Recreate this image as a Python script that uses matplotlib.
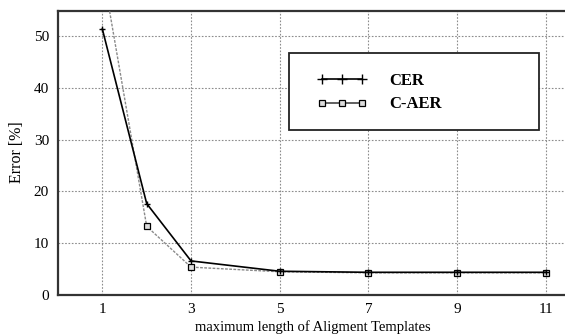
import matplotlib
matplotlib.use("Agg")
import matplotlib.pyplot as plt
from matplotlib.patches import Rectangle
from matplotlib.lines import Line2D

plt.rcParams['font.family'] = ['Liberation Serif', 'DejaVu Serif']

x_vals = [1, 2, 3, 5, 7, 9, 11]
cer = [51.4, 17.6, 6.5, 4.5, 4.3, 4.3, 4.3]
c_aer = [63.0, 13.2, 5.3, 4.4, 4.2, 4.2, 4.2]
xticks = [1, 3, 5, 7, 9, 11]
yticks = [0, 10, 20, 30, 40, 50]
series_labels = ["CER", "C-AER"]

W, H = 565, 336
fig = plt.figure(figsize=(W / 100, H / 100), dpi=100)
left, right, top, bottom = 58, 568, 10.5, 294.5
ax = fig.add_axes([left / W, 1 - bottom / H, (right - left) / W, (bottom - top) / H])

ax.set_xlim(0, 11.5)
ax.set_ylim(0, 55)
ax.set_xticks(xticks)
ax.set_yticks(yticks)

ax.grid(True, linestyle=(0, (1.5, 1.5)), color='#8c8c8c', linewidth=0.8)
ax.set_axisbelow(True)

ax.plot(x_vals, cer, color='black', linewidth=1.2, marker='+',
        markersize=5, markeredgewidth=1.0, label=series_labels[0], zorder=4)
ax.plot(x_vals, c_aer, color='#8a8a8a', linewidth=1.0, linestyle=(0, (2, 1)),
        marker='s', markersize=4, markerfacecolor='#dddddd',
        markeredgecolor='black', markeredgewidth=0.9,
        label=series_labels[1], zorder=3)

for s in ['left', 'bottom', 'top']:
    ax.spines[s].set_linewidth(1.6)
    ax.spines[s].set_color('#333333')
ax.spines['right'].set_visible(False)

ax.tick_params(axis='both', length=0, labelsize=11)
ax.tick_params(axis='y', pad=6.5)
ax.tick_params(axis='x', pad=6)

ax.set_ylabel("Error [%]", fontsize=11.5, labelpad=6)
ax.set_xlabel("maximum length of Aligment Templates", fontsize=10.5, labelpad=3)

# legend frame (pixel coords converted to figure coords)
bx0, bx1, by0, by1 = 289, 539, 52.7, 130
rect = Rectangle((bx0 / W, 1 - by1 / H), (bx1 - bx0) / W, (by1 - by0) / H,
                 transform=fig.transFigure, facecolor='white', edgecolor='#222222',
                 linewidth=1.3, zorder=5)
fig.patches.append(rect)

h1 = Line2D([], [], color='black', linewidth=1.2, marker='+', markersize=7, markeredgewidth=1.0)
h2 = Line2D([], [], color='#444444', linewidth=1.2, marker='s', markersize=5,
            markerfacecolor='#dddddd', markeredgecolor='black', markeredgewidth=0.9)
leg = fig.legend([h1, h2], series_labels, loc='center left',
                 bbox_to_anchor=(309 / W, 1 - 92.7 / H), frameon=False, numpoints=3,
                 handlelength=3.0, handletextpad=1.3, labelspacing=0.45,
                 borderpad=0, prop={'weight': 'bold', 'size': 12})
leg.set_zorder(6)

fig.savefig("out.png", dpi=100)
